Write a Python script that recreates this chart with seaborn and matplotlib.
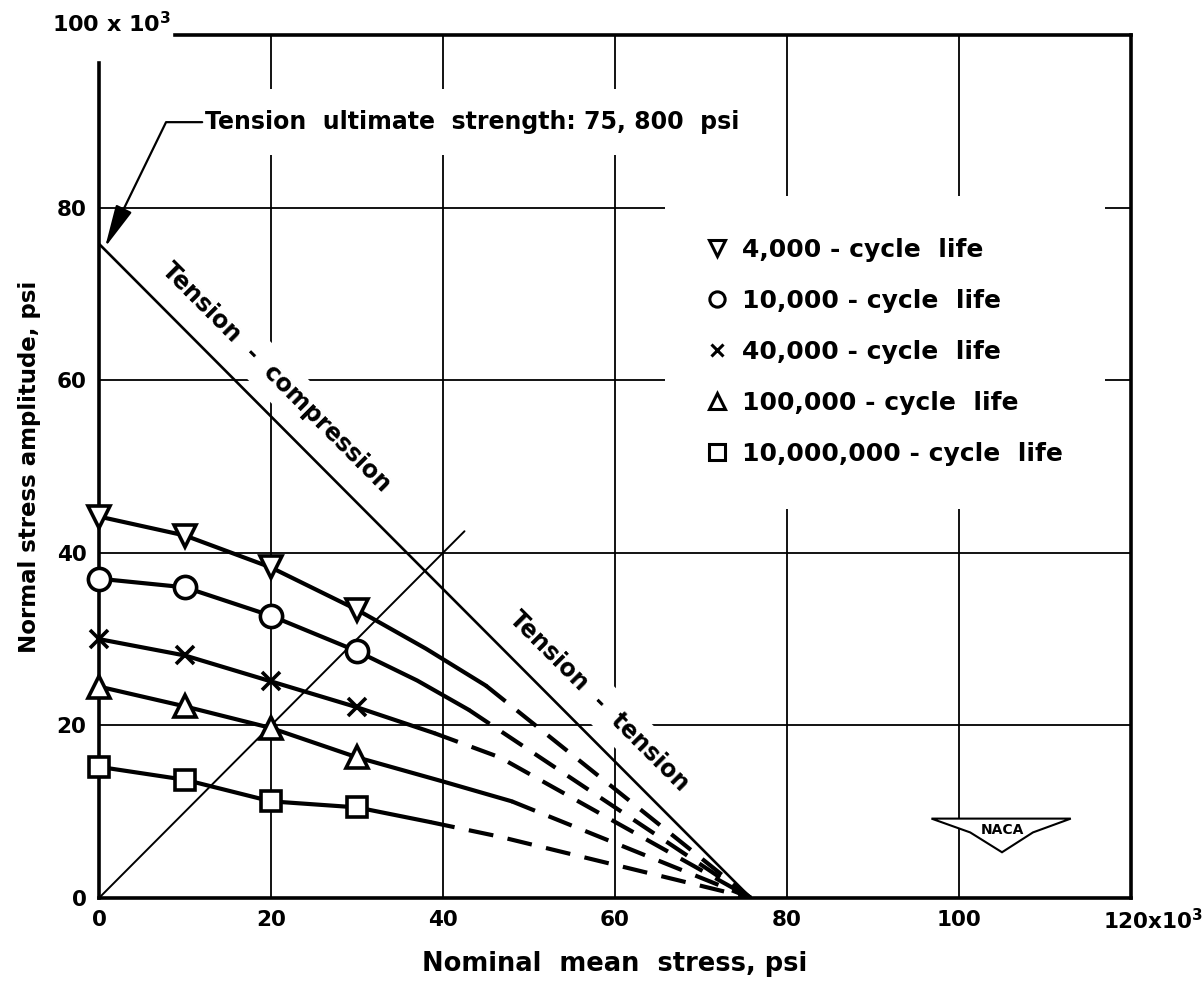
import matplotlib
matplotlib.use("Agg")
import matplotlib.pyplot as plt
import seaborn as sns
import pandas as pd
from matplotlib.lines import Line2D
from matplotlib.patches import Polygon

# ---------------- data (x 10^3 psi) ----------------
mean_stress = [0, 10, 20, 30]
amp_4000 = [44.2, 42.0, 38.3, 33.4]
amp_10000 = [37.0, 36.0, 32.7, 28.6]
amp_40000 = [30.0, 28.1, 25.1, 22.1]
amp_100000 = [24.5, 22.2, 19.7, 16.3]
amp_1e7 = [15.2, 13.7, 11.2, 10.5]

series_labels = ["4,000 - cycle  life", "10,000 - cycle  life", "40,000 - cycle  life",
                 "100,000 - cycle  life", "10,000,000 - cycle  life"]
series_markers = ["v", "o", "x", "^", "s"]

# faired curves (solid part continues beyond last test point)
solid_x_4000 = [0, 10, 20, 30, 38, 45]
solid_y_4000 = [44.2, 42.0, 38.3, 33.4, 28.9, 24.6]
solid_x_10000 = [0, 10, 20, 30, 37, 43]
solid_y_10000 = [37.0, 36.0, 32.7, 28.6, 25.2, 21.8]
solid_x_40000 = [0, 10, 20, 30, 39]
solid_y_40000 = [30.0, 28.1, 25.1, 22.1, 19.1]
solid_x_100000 = [0, 10, 20, 30, 40, 48]
solid_y_100000 = [24.5, 22.2, 19.7, 16.3, 13.5, 11.2]
solid_x_1e7 = [0, 10, 20, 30, 38.5]
solid_y_1e7 = [15.2, 13.7, 11.2, 10.5, 8.8]

# dashed extrapolation to the tension ultimate strength
ultimate = 75.8
dash_x_4000 = [45, ultimate]
dash_y_4000 = [24.6, 0]
dash_x_10000 = [43, ultimate]
dash_y_10000 = [21.8, 0]
dash_x_40000 = [39, 46.6, ultimate]
dash_y_40000 = [19.1, 16.3, 0]
dash_x_100000 = [48, ultimate]
dash_y_100000 = [11.2, 0]
dash_x_1e7 = [38.5, 46.6, ultimate]
dash_y_1e7 = [8.8, 7.1, 0]

# reference lines
tc_x = [0, ultimate]
tc_y = [ultimate, 0]
diag_x = [0, 42.5]
diag_y = [0, 42.5]

x_ticks = [0, 20, 40, 60, 80, 100, 120]
x_ticklabels = ["0", "20", "40", "60", "80", "100", ""]
y_ticks = [0, 20, 40, 60, 80, 100]
y_ticklabels = ["0", "20", "40", "60", "80", ""]

# ---------------- style ----------------
sns.set_theme(style="white")
plt.rcParams['font.family'] = ['DejaVu Sans']
plt.rcParams['font.weight'] = 'bold'
plt.rcParams['axes.labelweight'] = 'bold'
plt.rcParams['text.color'] = 'black'
plt.rcParams['axes.labelcolor'] = 'black'
plt.rcParams['xtick.color'] = 'black'
plt.rcParams['ytick.color'] = 'black'

fig = plt.figure(figsize=(12.02, 9.93), dpi=100)
ax = fig.add_axes([99 / 1202, 95 / 993, 1032 / 1202, 863 / 993])
ax.set_xlim(0, 120)
ax.set_ylim(0, 100)
ax.set_xticks(x_ticks)
ax.set_xticklabels(x_ticklabels)
ax.set_yticks(y_ticks)
ax.set_yticklabels(y_ticklabels)
ax.tick_params(length=0, labelsize=15.5, colors='black', pad=9)
ax.grid(True, color='black', lw=1.3)
ax.set_axisbelow(True)
# gridlines that coincide with the frame are not drawn
ax.xaxis.get_gridlines()[0].set_visible(False)
ax.xaxis.get_gridlines()[-1].set_visible(False)
ax.yaxis.get_gridlines()[0].set_visible(False)
ax.yaxis.get_gridlines()[-1].set_visible(False)
for s in ax.spines.values():
    s.set_color('black')
    s.set_linewidth(2.6)
    s.set_visible(True)
ax.spines['left'].set_bounds(0, 96.8)
ax.spines['top'].set_bounds(8.8, 120)

# reference lines
sns.lineplot(x=tc_x, y=tc_y, ax=ax, color='black', lw=1.9, estimator=None, sort=False)
sns.lineplot(x=diag_x, y=diag_y, ax=ax, color='black', lw=1.4, estimator=None, sort=False)

solids = [(solid_x_4000, solid_y_4000), (solid_x_10000, solid_y_10000),
          (solid_x_40000, solid_y_40000), (solid_x_100000, solid_y_100000),
          (solid_x_1e7, solid_y_1e7)]
dashes = [(dash_x_4000, dash_y_4000), (dash_x_10000, dash_y_10000),
          (dash_x_40000, dash_y_40000), (dash_x_100000, dash_y_100000),
          (dash_x_1e7, dash_y_1e7)]
points = [amp_4000, amp_10000, amp_40000, amp_100000, amp_1e7]

for (sx, sy), (dx, dy) in zip(solids, dashes):
    sns.lineplot(x=sx, y=sy, ax=ax, color='black', lw=3.0, estimator=None, sort=False)
    sns.lineplot(x=dx, y=dy, ax=ax, color='black', lw=3.0, estimator=None, sort=False,
                 dashes=False, linestyle=(0, (6, 3.5)))

for amps, mk in zip(points, series_markers):
    df = pd.DataFrame({"x": mean_stress, "y": amps})
    ms = 13 if mk == 'x' else (14 if mk == 's' else 16)
    sns.lineplot(data=df, x="x", y="y", ax=ax, linestyle='none', marker=mk,
                 markersize=ms, markerfacecolor='white', markeredgecolor='black',
                 markeredgewidth=2.6, color='black', zorder=4, estimator=None,
                 clip_on=False)

# legend
handles = [Line2D([], [], linestyle='none', marker=mk, markersize=11 if mk != 'x' else 9,
                  markerfacecolor='white', markeredgecolor='black', markeredgewidth=2.2)
           for mk in series_markers]
leg = ax.legend(handles, series_labels, loc='upper left', bbox_to_anchor=(0.548, 0.814),
                borderaxespad=0, frameon=True, facecolor='white', edgecolor='none',
                framealpha=1, prop={'size': 18, 'weight': 'bold'}, handlelength=0.8,
                handletextpad=0.6, labelspacing=1.08, borderpad=1.7, fancybox=False)
leg.set_zorder(5)

# annotations
ax.text(12.3, 89.9, "Tension  ultimate  strength: 75, 800  psi", ha='left', va='center',
        fontsize=17, fontweight='bold', zorder=1.5,
        bbox=dict(boxstyle='square,pad=0.9', fc='white', ec='none'))
ax.annotate("", xy=(0.7, 75.4), xytext=(12.0, 89.9), zorder=3,
            arrowprops=dict(arrowstyle='-|>,head_length=2.2,head_width=0.45',
                            connectionstyle='angle,angleA=180,angleB=64,rad=0',
                            color='black', lw=1.6, shrinkA=0, shrinkB=0))
ax.text(20.6, 60.3, "Tension  -  compression", rotation=-45, rotation_mode='anchor',
        ha='center', va='center', fontsize=17, fontweight='bold', zorder=1.5,
        bbox=dict(boxstyle='square,pad=0.4', fc='white', ec='none'))
ax.text(58.1, 22.8, "Tension  -  tension", rotation=-45, rotation_mode='anchor',
        ha='center', va='center', fontsize=17, fontweight='bold', zorder=1.5,
        bbox=dict(boxstyle='square,pad=0.4', fc='white', ec='none'))

# axis corner labels
ax.text(8.4, 101.3, r"100 x 10$^{3}$", ha='right', va='center', fontsize=16,
        fontweight='bold', clip_on=False)
ax.text(116.8, -2.6, r"120x10$^{3}$", ha='left', va='center', fontsize=15.5,
        fontweight='bold', clip_on=False)

ax.set_xlabel("Nominal  mean  stress, psi", fontsize=18.5, fontweight='bold', labelpad=15)
ax.set_ylabel("Normal stress amplitude, psi", fontsize=16.5, fontweight='bold', labelpad=11)

# NACA emblem
emblem = Polygon([(96.8, 9.2), (113.0, 9.2), (108.6, 7.6), (105.0, 5.3), (101.3, 7.6)],
                 closed=True, fc='white', ec='black', lw=1.5, zorder=3)
ax.add_patch(emblem)
ax.text(105.0, 7.9, "NACA", ha='center', va='center', fontsize=10, fontweight='bold', zorder=4)

fig.savefig("out.png", dpi=100)
